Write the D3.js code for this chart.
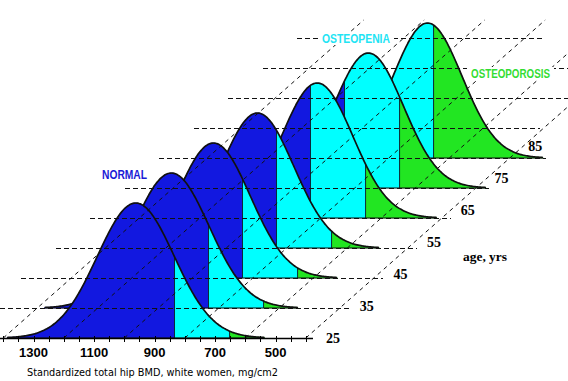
<!DOCTYPE html>
<html>
<head>
<meta charset="utf-8">
<script src="https://cdn.jsdelivr.net/npm/d3@7"></script>
<style>
  html, body { margin: 0; padding: 0; background: #fff; }
  svg { display: block; }
</style>
</head>
<body>
<svg id="chart" width="568" height="381"></svg>
<script>
// ---- data ----
const ages = [25, 35, 45, 55, 65, 75, 85];
const meanBMD = [962, 957, 930, 897, 812, 755, 672];
const sdBMD = [127, 125, 122, 120, 118, 116, 114];
const cutoffs = [834, 652];          // osteopenia / osteoporosis thresholds (mg/cm2)
const tickLabels = [1300, 1100, 900, 700, 500];
const minorTicks = d3.range(1400, 399, -50);
const gridValues = [1400, 1200, 1000, 800, 600, 400];
const categoryNames = ["NORMAL", "OSTEOPENIA", "OSTEOPOROSIS"];
const axisTitle = "Standardized total hip BMD,  white women, mg/cm2";
const ageTitle = "age, yrs";

// ---- layout ----
const colors = { normal: "#1218e0", penia: "#00ffff", porosis: "#22e622" };
const svg = d3.select("#chart");
const x = d3.scaleLinear().domain([1400, 400]).range([3.3, 305.8]);
const depthX = d3.scaleLinear().domain([25, 85]).range([0, 204]);
const baseY = d3.scaleLinear().domain([25, 85]).range([338, 158]);
const h = d3.scaleLinear().domain([0, 1]).range([0, 135]);
const span = 3.35;

function pts(i, lo, hi) {
  const m = meanBMD[i], s = sdBMD[i];
  const a = Math.max(lo, m - span * s), b = Math.min(hi, m + span * s);
  if (a >= b) return [];
  const arr = d3.range(b, a, -4).concat([a]);
  return arr.map(v => ({ v, d: Math.exp(-0.5 * ((v - m) / s) ** 2) }));
}
const px = (i, v) => x(v) + depthX(ages[i]);

const gCurves = svg.append("g");
for (let i = ages.length - 1; i >= 0; i--) {
  const g = gCurves.append("g");
  const b = baseY(ages[i]);
  const area = d3.area().x(p => px(i, p.v)).y0(b).y1(p => b - h(p.d));
  const segs = [
    [cutoffs[0], 5000, colors.normal],
    [cutoffs[1], cutoffs[0], colors.penia],
    [-5000, cutoffs[1], colors.porosis]
  ];
  segs.forEach(([lo, hi, c]) => {
    const p = pts(i, lo, hi);
    if (p.length) g.append("path").attr("d", area(p)).attr("fill", c).attr("stroke", c).attr("stroke-width", 0.5);
  });
  cutoffs.forEach(c => {
    const d = Math.exp(-0.5 * ((c - meanBMD[i]) / sdBMD[i]) ** 2);
    g.append("line").attr("x1", px(i, c)).attr("x2", px(i, c))
      .attr("y1", b).attr("y2", b - h(d)).attr("stroke", "#0a2a3a").attr("stroke-width", 1);
  });
  const all = pts(i, -5000, 5000);
  const line = d3.line().x(p => px(i, p.v)).y(p => b - h(p.d)).curve(d3.curveBasis);
  g.append("path").attr("d", line(all)).attr("fill", "none").attr("stroke", "#111").attr("stroke-width", 1.7);
  g.append("line").attr("x1", px(i, all[0].v)).attr("x2", px(i, all[all.length - 1].v))
    .attr("y1", b).attr("y2", b).attr("stroke", "#111").attr("stroke-width", 1.2);
}

// ---- grid (drawn over the curves) ----
const gGrid = svg.append("g").attr("stroke", "#111").attr("stroke-width", 1).attr("fill", "none");
const labelX = k => 326 + 33.7 * k;
const upperEnds = [540, 568, 568, 543];
for (let k = 1; k <= 10; k++) {
  const y = Math.round(338 - 30 * k) + 0.5;
  let x1 = Math.max(0, -48 + 34.5 * k), x2;
  if (k <= 6) {
    const tail = px(k, meanBMD[k] - span * sdBMD[k]);
    x2 = Math.max(labelX(k) - 10, tail + 3);
  } else {
    x2 = upperEnds[k - 7];
  }
  gGrid.append("line").attr("x1", x1).attr("x2", x2).attr("y1", y).attr("y2", y)
    .attr("stroke-dasharray", "5,3").attr("shape-rendering", "crispEdges");
}
gridValues.forEach(v => {
  const kEnd = 10.6;
  gGrid.append("line").attr("x1", x(v)).attr("y1", 338)
    .attr("x2", x(v) + 34 * kEnd).attr("y2", 338 - 30 * kEnd)
    .attr("stroke-dasharray", "4,4");
});

// ---- axis ----
const gAxis = svg.append("g");
gAxis.append("line").attr("x1", 0).attr("x2", 313).attr("y1", 338.5).attr("y2", 338.5)
  .attr("stroke", "#000").attr("stroke-width", 1.3);
gAxis.selectAll("line.tick").data(minorTicks).join("line").attr("class", "tick")
  .attr("x1", d => Math.round(x(d)) + 0.5).attr("x2", d => Math.round(x(d)) + 0.5).attr("y1", 336).attr("y2", 342)
  .attr("stroke", "#000").attr("stroke-width", 1);
gAxis.selectAll("text.tl").data(tickLabels).join("text").attr("class", "tl")
  .attr("x", d => x(d)).attr("y", 357).attr("text-anchor", "middle")
  .attr("font-family", "Liberation Sans, Arial, sans-serif").attr("font-weight", "bold")
  .attr("font-size", 13).attr("fill", "#000").text(d => d);
svg.append("text").attr("x", 27).attr("y", 376).attr("textLength", 251).attr("lengthAdjust", "spacingAndGlyphs")
  .attr("font-family", "DejaVu Sans, sans-serif").attr("font-size", 11).attr("fill", "#000").text(axisTitle);

// ---- age labels ----
svg.selectAll("text.age").data(ages).join("text").attr("class", "age")
  .attr("x", (d, k) => labelX(k)).attr("y", (d, k) => 338 - 32 * k + 5)
  .attr("font-family", "Liberation Serif, Times New Roman, serif").attr("font-weight", "bold")
  .attr("font-size", 14).attr("fill", "#000").text(d => d);
svg.append("text").attr("x", 463).attr("y", 261).attr("textLength", 44).attr("lengthAdjust", "spacingAndGlyphs")
  .attr("font-family", "Liberation Serif, Times New Roman, serif").attr("font-weight", "bold")
  .attr("font-size", 13).attr("fill", "#000").text(ageTitle);

// ---- category labels ----
const catPos = [
  { x: 102, y: 179, w: 45, size: 13, c: "#1a1ad6" },
  { x: 322, y: 43, w: 68, size: 13, c: "#22e4f4" },
  { x: 471, y: 78, w: 79, size: 12, c: "#33dd33" }
];
categoryNames.forEach((name, j) => {
  const p = catPos[j];
  if (j > 0) svg.append("rect").attr("x", p.x - 4).attr("y", p.y - 11).attr("width", p.w + 8).attr("height", 13).attr("fill", "#fff");
  svg.append("text").attr("x", p.x).attr("y", p.y).attr("textLength", p.w).attr("lengthAdjust", "spacingAndGlyphs")
    .attr("font-family", "Liberation Sans, Arial, sans-serif").attr("font-weight", "bold")
    .attr("font-size", p.size).attr("fill", p.c).text(name);
});
</script>
</body>
</html>
